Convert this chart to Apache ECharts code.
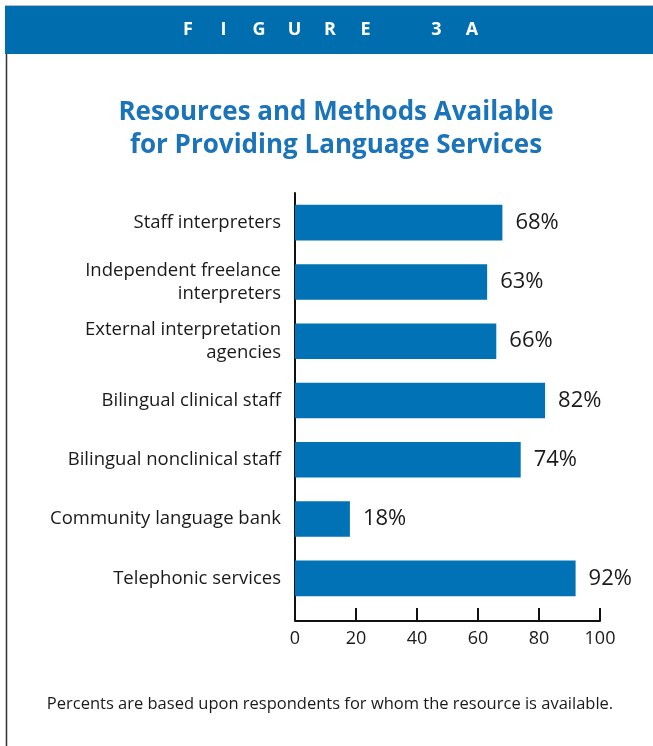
<!DOCTYPE html>
<html>
<head>
<meta charset="utf-8">
<script src="https://cdn.jsdelivr.net/npm/echarts@6/dist/echarts.min.js"></script>
<style>
html,body{margin:0;padding:0;background:#fff;}
#chart{width:653px;height:746px;}
</style>
</head>
<body>
<div id="chart"></div>
<script>
const categories = [
  "Staff interpreters",
  "Independent freelance\ninterpreters",
  "External interpretation\nagencies",
  "Bilingual clinical staff",
  "Bilingual nonclinical staff",
  "Community language bank",
  "Telephonic services"
];
const values = [68, 63, 66, 82, 74, 18, 92];
const xTicks = [0, 20, 40, 60, 80, 100];
const headerText = "FIGURE 3A";
const titleText = "Resources and Methods Available\nfor Providing Language Services";
const footnote = "Percents are based upon respondents for whom the resource is available.";

const FONT = "Open Sans";
const W = 653, H = 746;
const gridTop = 193, gridBottom = 138, gridLeft = 295, gridRight = 53, axisOffset = 13;

const chart = echarts.init(document.getElementById('chart'), null, {renderer: 'canvas'});

// header letters spaced out
const headerEls = [];
const letterStep = 35.5;
let lx = 188;
for (const ch of headerText) {
  if (ch !== ' ') {
    headerEls.push({
      type: 'text', x: lx, y: 30,
      style: {text: ch, fill: '#ffffff', font: 'bold 18px "Open Sans"', align: 'center', verticalAlign: 'middle'}
    });
  }
  lx += letterStep;
}

const option = {
  animation: false,
  backgroundColor: '#ffffff',
  title: [{
    text: titleText,
    left: 331, top: 91, textAlign: 'center',
    textStyle: {fontFamily: FONT, fontWeight: 'bold', fontSize: 26, lineHeight: 33, color: '#1B74B9'}
  }, {
    text: footnote,
    left: 325, top: 691, textAlign: 'center',
    textStyle: {fontFamily: FONT, fontWeight: 'normal', fontSize: 16.5, color: '#1a1a1a'}
  }],
  grid: {left: gridLeft, right: gridRight, top: gridTop, bottom: gridBottom, containLabel: false},
  xAxis: {
    type: 'value', min: 0, max: 100, interval: 20,
    offset: axisOffset,
    axisLine: {show: true, lineStyle: {color: '#111', width: 2}},
    axisTick: {show: true, inside: true, length: 13, lineStyle: {color: '#111', width: 2}},
    splitLine: {show: false},
    axisLabel: {
      margin: 9, fontFamily: FONT, fontSize: 18, color: '#1a1a1a',
      formatter: v => xTicks.includes(v) ? String(v) : ''
    }
  },
  yAxis: {
    type: 'category', data: categories, inverse: true,
    axisLine: {show: true, lineStyle: {color: '#111', width: 2}},
    axisTick: {show: false},
    axisLabel: {margin: 14, fontFamily: FONT, fontSize: 18.5, lineHeight: 23, color: '#1a1a1a', align: 'right'}
  },
  series: [{
    type: 'bar', data: values,
    barCategoryGap: '40%',
    itemStyle: {color: '#0072B5'},
    label: {
      show: true, position: 'right', distance: 13,
      formatter: p => p.value + '%',
      fontFamily: FONT, fontSize: 22, color: '#1a1a1a'
    }
  }],
  graphic: [
    {type: 'line', shape: {x1: 5, y1: 5.5, x2: W, y2: 5.5}, style: {stroke: '#bbbbbb', lineWidth: 1}},
    {type: 'rect', shape: {x: 5, y: 6, width: W - 5, height: 48}, style: {fill: '#006DAF'}},
    {type: 'line', shape: {x1: 6.5, y1: 54, x2: 6.5, y2: H}, style: {stroke: '#333333', lineWidth: 1.5}}
  ].concat(headerEls)
};
chart.setOption(option);

// extend the vertical axis line down to the offset horizontal axis
const x0 = chart.convertToPixel({xAxisIndex: 0}, 0);
const yEnd = H - gridBottom;
chart.setOption({
  graphic: option.graphic.concat([
    {type: 'line', shape: {x1: x0, y1: yEnd - 1, x2: x0, y2: yEnd + axisOffset}, style: {stroke: '#111', lineWidth: 2}}
  ])
});
</script>
</body>
</html>
